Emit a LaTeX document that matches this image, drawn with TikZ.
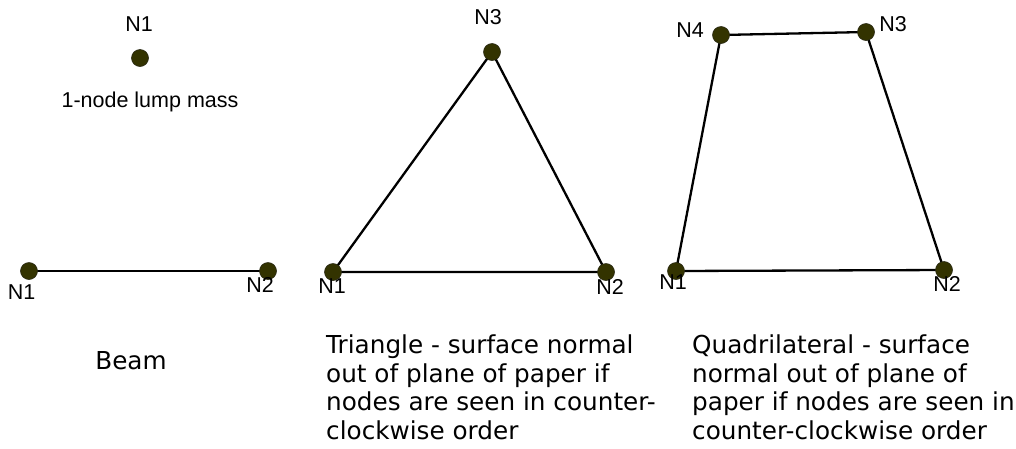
\documentclass[tikz,border=0pt]{standalone}
\usepackage{fontspec}
\setmainfont{Liberation Sans}
\newfontfamily\bodyfont{DejaVu Sans}
\begin{document}
\begin{tikzpicture}[x=1pt,y=-1pt,
  nodedot/.style={circle,fill={rgb,255:red,51;green,51;blue,0},draw={rgb,255:red,40;green,40;blue,20},line width=0.6pt,minimum size=17pt,inner sep=0pt},
  edge/.style={draw=black,line width=2.3pt},
  lbl/.style={inner sep=0pt,font=\fontsize{21.5}{24}\selectfont},
  desc/.style={inner sep=0pt,anchor=north west,align=left,font=\bodyfont\fontsize{24.7}{28.5}\selectfont}]
\useasboundingbox (0,0) rectangle (1016,448);
% lump mass
\node[nodedot] (m1) at (140,58) {};
\node[lbl] (lm1) at (139,24.5) {N1};
\node[lbl,anchor=base] (lmt) at (150,107) {1-node lump mass};
% beam
\coordinate (b1c) at (29,271);
\coordinate (b2c) at (268,271);
\draw[edge] (b1c) -- (b2c);
\node[nodedot] (b1) at (b1c) {};
\node[nodedot] (b2) at (b2c) {};
\node[lbl] (lb1) at (21.5,292) {N1};
\node[lbl] (lb2) at (260,284.5) {N2};
\node[desc,anchor=base] (bt) at (131,369) {Beam};
% triangle
\coordinate (t1c) at (333,272);
\coordinate (t2c) at (606,272);
\coordinate (t3c) at (492,52);
\draw[edge,line join=round] (t1c) -- (t2c) -- (t3c) -- cycle;
\node[nodedot] (t1) at (t1c) {};
\node[nodedot] (t2) at (t2c) {};
\node[nodedot] (t3) at (t3c) {};
\node[lbl] (lt1) at (332,286) {N1};
\node[lbl] (lt2) at (610,287) {N2};
\node[lbl] (lt3) at (488,17) {N3};
\node[desc] (tt) at (326,335) {Triangle - surface normal\\out of plane of paper if\\nodes are seen in counter-\\clockwise order};
% quadrilateral
\coordinate (q1c) at (676,271);
\coordinate (q2c) at (944,270);
\coordinate (q3c) at (866,32);
\coordinate (q4c) at (721,35);
\draw[edge,line join=round] (q1c) -- (q2c) -- (q3c) -- (q4c) -- cycle;
\node[nodedot] (q1) at (q1c) {};
\node[nodedot] (q2) at (q2c) {};
\node[nodedot] (q3) at (q3c) {};
\node[nodedot] (q4) at (q4c) {};
\node[lbl] (lq1) at (673,282) {N1};
\node[lbl] (lq2) at (947,284) {N2};
\node[lbl] (lq3) at (893,24) {N3};
\node[lbl] (lq4) at (690,30) {N4};
\node[desc] (qt) at (692,335) {Quadrilateral - surface\\normal out of plane of\\paper if nodes are seen in\\counter-clockwise order};
\end{tikzpicture}
\end{document}
